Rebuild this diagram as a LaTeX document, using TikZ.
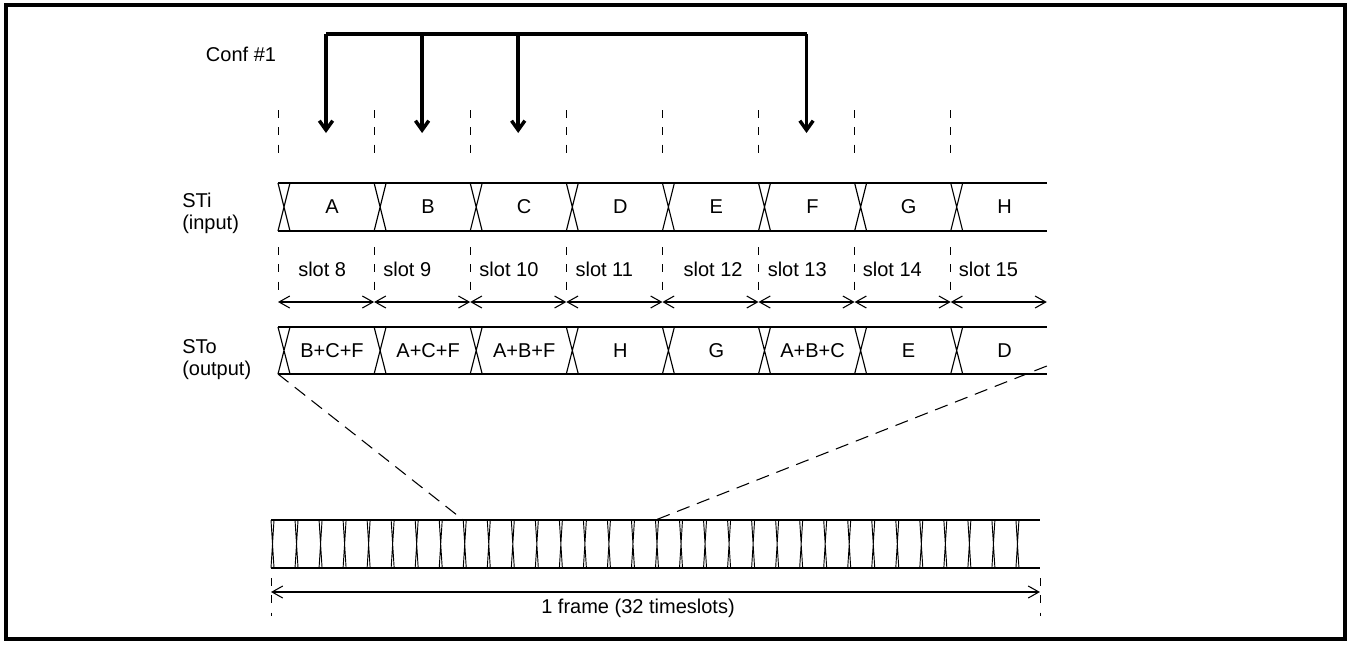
\documentclass[tikz,border=0pt]{standalone}
\usepackage{fontspec}
\setmainfont{Liberation Sans}
\usetikzlibrary{arrows.meta,positioning,calc}
\definecolor{Ink}{HTML}{000000}
\tikzset{
  lbl/.style={font=\fontsize{15}{16.5}\selectfont,text=Ink,inner sep=0pt},
  sigLabel/.style={lbl,align=left,anchor=west},
  busLine/.style={draw=Ink,line width=1pt},
  xing/.style={draw=Ink,line width=0.85pt},
  guide/.style={draw=Ink,line width=0.6pt,dash pattern=on 6pt off 7pt},
  zoomLine/.style={draw=Ink,line width=0.8pt,dash pattern=on 10pt off 6pt},
  confLine/.style={draw=Ink,line width=2.6pt},
  confArrow/.style={confLine,-{Straight Barb[length=7pt,width=10pt]}},
  spanArrow/.style={draw=Ink,line width=0.8pt,{Straight Barb[length=8pt,width=9pt]}-{Straight Barb[length=8pt,width=9pt]}},
  frameBox/.style={draw=Ink,line width=2.4pt}
}
\begin{document}
\begin{tikzpicture}[x=0.75pt,y=-0.75pt]
\useasboundingbox (0,0) rectangle (1348,644);
\draw[frameBox] (6,5) rectangle (1345,639);
% slot boundaries (upper) and timeslot boundaries (frame)
\foreach \i in {0,...,8}{\coordinate (b\i) at ({278+96.1*\i},0);}
\foreach \k in {0,...,32}{\coordinate (c\k) at ({271+24.03*\k},0);}
% conference taps
\node[lbl] (conf) at (241,54) {Conf \#1};
\coordinate (tapL) at ($(b0)+(48,34)$);
\coordinate (tapR) at ($(b5)+(48,34)$);
\draw[confLine] (tapL) -- (tapR);
\foreach \j in {0,1,2,5}{\draw[confArrow] ($(b\j)+(48,34)$) -- ($(b\j)+(48,133)$);}
\foreach \i in {0,...,7}{\draw[guide] ($(b\i)+(0,110)$) -- ($(b\i)+(0,158)$);}
% STi / STo streams
\node[sigLabel] (sti) at (182,213) {STi\\(input)};
\node[sigLabel] (sto) at (182,360) {STo\\(output)};
\foreach \top/\bot in {183/231,327/374}{
  \draw[busLine] ($(b0)+(0,\top)$) -- ($(b8)+(0,\top)$) ($(b0)+(0,\bot)$) -- ($(b8)+(0,\bot)$);
  \foreach \i in {0,...,7}{\draw[xing] ($(b\i)+(0,\top)$) -- ($(b\i)+(12,\bot)$) ($(b\i)+(12,\top)$) -- ($(b\i)+(0,\bot)$);}
}
\foreach \t [count=\i from 0] in {A,B,C,D,E,F,G,H}{\node[lbl] (in\i) at ($(b\i)+(54,207)$) {\t};}
\foreach \t [count=\i from 0] in {B+C+F,A+C+F,A+B+F,H,G,A+B+C,E,D}{\node[lbl] (out\i) at ($(b\i)+(54,351)$) {\t};}
% slot numbers
\foreach \i in {0,...,7}{\draw[guide] ($(b\i)+(0,247)$) -- ($(b\i)+(0,293)$);}
\foreach \n/\dx [count=\i from 0] in {8/20,9/9,10/9,11/9,12/21,13/9,14/8,15/8}{\node[lbl,anchor=west] (slot\n) at ($(b\i)+(\dx,269)$) {slot \n};}
\foreach \i [evaluate=\i as \j using int(\i+1)] in {0,...,7}{\draw[spanArrow] ($(b\i)+(0,302)$) -- ($(b\j)+(0,302)$);}
% whole frame
\draw[busLine] ($(c0)+(0,520)$) -- ($(c32)+(0,520)$) ($(c0)+(0,568)$) -- ($(c32)+(0,568)$);
\foreach \k in {0,...,31}{\draw[xing,line width=0.7pt] ($(c\k)+(0,520)$) -- ($(c\k)+(3,568)$) ($(c\k)+(3,520)$) -- ($(c\k)+(0,568)$);}
\draw[zoomLine] ($(b0)+(0,374)$) -- ($(c8)+(0,520)$);
\draw[zoomLine] ($(b8)+(0,366)$) -- ($(c16)+(0,520)$);
\foreach \k in {0,32}{\draw[guide] ($(c\k)+(0,578)$) -- ($(c\k)+(0,616)$);}
\draw[spanArrow] ($(c0)+(0,592)$) -- ($(c32)+(0,592)$);
\node[lbl] (frame) at (638,608) {1 frame (32 timeslots)};
\end{tikzpicture}
\end{document}
